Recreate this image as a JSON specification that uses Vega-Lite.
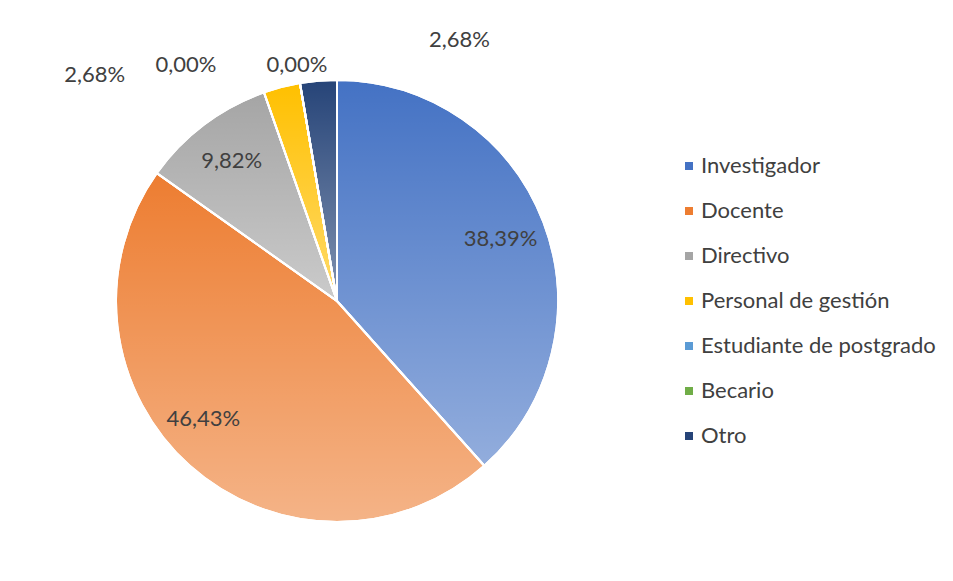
{
  "$schema": "https://vega.github.io/schema/vega-lite/v6.json",
  "width": 442,
  "height": 442,
  "autosize": {"type": "none"},
  "padding": {"left": 116, "top": 80, "right": 395, "bottom": 59},
  "background": "white",
  "config": {"view": {"stroke": null}, "font": "Lato"},
  "data": {
    "values": [
      {"i": 1, "categoria": "Investigador", "valor": 38.39, "etiqueta": "38,39%"},
      {"i": 2, "categoria": "Docente", "valor": 46.43, "etiqueta": "46,43%"},
      {"i": 3, "categoria": "Directivo", "valor": 9.82, "etiqueta": "9,82%"},
      {"i": 4, "categoria": "Personal de gestión", "valor": 2.68, "etiqueta": "2,68%"},
      {"i": 5, "categoria": "Estudiante de postgrado", "valor": 0, "etiqueta": "0,00%"},
      {"i": 6, "categoria": "Becario", "valor": 0, "etiqueta": "0,00%"},
      {"i": 7, "categoria": "Otro", "valor": 2.68, "etiqueta": "2,68%"}
    ]
  },
  "encoding": {
    "theta": {"field": "valor", "type": "quantitative", "stack": true},
    "order": {"field": "i", "type": "quantitative"},
    "detail": {"field": "categoria", "type": "nominal"}
  },
  "layer": [
    {
      "mark": {"type": "arc", "radius": 221, "stroke": "white", "strokeWidth": 2},
      "encoding": {
        "color": {
          "field": "categoria",
          "type": "nominal",
          "sort": ["Investigador", "Docente", "Directivo", "Personal de gestión", "Estudiante de postgrado", "Becario", "Otro"],
          "scale": {
            "domain": ["Investigador", "Docente", "Directivo", "Personal de gestión", "Estudiante de postgrado", "Becario", "Otro"],
            "range": ["#4472C4", "#ED7D31", "#A5A5A5", "#FFC000", "#5B9BD5", "#70AD47", "#264478"]
          },
          "legend": {
            "title": null,
            "orient": "none",
            "legendX": 562,
            "legendY": 75,
            "symbolType": "square",
            "symbolSize": 64,
            "symbolStrokeWidth": 0,
            "labelFontSize": 22,
            "labelColor": "#404040",
            "labelFont": "Lato",
            "labelOffset": 1,
            "rowPadding": 23,
            "padding": 0,
            "labelLimit": 400
          }
        }
      }
    },
    {
      "mark": {
        "type": "arc",
        "radius": 221,
        "stroke": "white",
        "strokeWidth": 2,
        "color": {
          "gradient": "linear",
          "x1": 0, "y1": 0, "x2": 0, "y2": 1,
          "stops": [
            {"offset": 0, "color": "rgba(255,255,255,0)"},
            {"offset": 1, "color": "rgba(255,255,255,0.42)"}
          ]
        }
      }
    },
    {
      "mark": {"type": "text", "radius": 175, "fontSize": 22, "color": "#404040"},
      "encoding": {"text": {"condition": {"test": "datum.valor > 5 && datum.categoria !== 'Docente'", "field": "etiqueta"}, "value": ""}}
    },
    {
      "mark": {"type": "text", "radius": 175, "dx": -17, "dy": -13, "fontSize": 22, "color": "#404040"},
      "encoding": {"text": {"condition": {"test": "datum.categoria === 'Docente'", "field": "etiqueta"}, "value": ""}}
    },
    {
      "mark": {"type": "text", "radius": 221, "dx": -187, "dy": -12, "fontSize": 22, "color": "#404040"},
      "encoding": {"text": {"condition": {"test": "datum.categoria === 'Personal de gestión'", "field": "etiqueta"}, "value": ""}}
    },
    {
      "mark": {"type": "text", "radius": 221, "dx": -114, "dy": -18, "fontSize": 22, "color": "#404040"},
      "encoding": {"text": {"condition": {"test": "datum.categoria === 'Estudiante de postgrado'", "field": "etiqueta"}, "value": ""}}
    },
    {
      "mark": {"type": "text", "radius": 221, "dx": -3, "dy": -18, "fontSize": 22, "color": "#404040"},
      "encoding": {"text": {"condition": {"test": "datum.categoria === 'Becario'", "field": "etiqueta"}, "value": ""}}
    },
    {
      "mark": {"type": "text", "radius": 221, "dx": 141, "dy": -41, "fontSize": 22, "color": "#404040"},
      "encoding": {"text": {"condition": {"test": "datum.categoria === 'Otro'", "field": "etiqueta"}, "value": ""}}
    }
  ]
}
